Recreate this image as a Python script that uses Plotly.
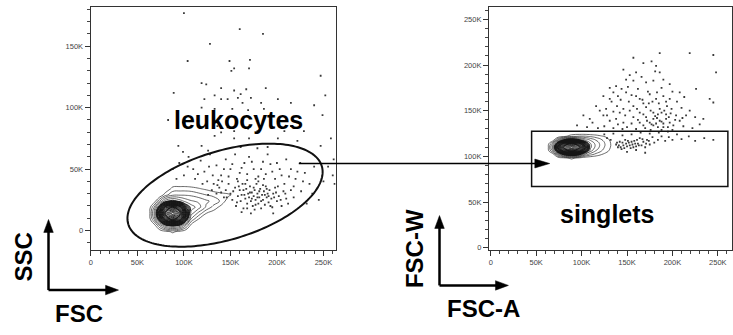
import numpy as np
import plotly.graph_objects as go

W, H = 733, 335
FONT = "Liberation Sans, Arial, Helvetica, sans-serif"

# ---------------- tick labels ----------------
X_TICK_VALS = [0, 50000, 100000, 150000, 200000, 250000]
X_TICK_TEXT = ["0", "50K", "100K", "150K", "200K", "250K"]
LEFT_Y_TICK_VALS = [0, 50000, 100000, 150000]
LEFT_Y_TICK_TEXT = ["0", "50K", "100K", "150K"]
RIGHT_Y_TICK_VALS = [0, 50000, 100000, 150000, 200000, 250000]
RIGHT_Y_TICK_TEXT = ["0", "50K", "100K", "150K", "200K", "250K"]

# ---------------- left panel: FSC vs SSC events (thousands) ----------------
LEFT_EVENTS_K = [
    (100, 177), (160, 164), (185, 160), (128, 152), (104, 138), (149, 138), (154, 132), (171, 139),
    (170, 132), (151, 130), (119, 120), (124, 119), (140, 116), (154, 114), (161, 111), (167, 115),
    (188, 116), (247, 126), (89, 112), (122, 107), (133, 110), (140, 107), (147, 107), (158, 108),
    (163, 104), (172, 108), (183, 104), (201, 107), (215, 104), (119, 100), (133, 99), (152, 99),
    (169, 98), (186, 99), (240, 102), (249, 94), (252, 110), (99, 88), (83, 90), (136, 85),
    (147, 84), (154, 81), (169, 83), (179, 81), (194, 84), (208, 81), (215, 85), (229, 81),
    (133, 77), (140, 80), (154, 75), (170, 75), (201, 75), (222, 73), (247, 69), (258, 75),
    (94, 69), (99, 64), (119, 69), (126, 65), (161, 68), (179, 67), (190, 68),
    (261, 58), (260, 45), (262, 38), (255, 52), (250, 40),
    (95, 55), (105, 60), (110, 50), (118, 57), (122, 48), (128, 62), (135, 53), (140, 45),
    (145, 58), (150, 50), (155, 62), (160, 47), (165, 55), (170, 60), (175, 50), (180, 44),
    (185, 56), (190, 62), (195, 48), (200, 55), (205, 45), (210, 58), (215, 50), (220, 42),
    (225, 55), (230, 47), (235, 38), (240, 52), (112, 42), (125, 40), (132, 38), (100, 45),
    (88, 50), (92, 42), (238, 30), (245, 25), (232, 22), (226, 32),
    (104, 52), (115, 46), (120, 38), (127, 52), (131, 45), (137, 41), (143, 50), (148, 44),
    (152, 54), (158, 40), (162, 51), (168, 46), (173, 56), (177, 42), (183, 50), (188, 46),
    (193, 54), (198, 42), (203, 50), (208, 38), (213, 44), (218, 36), (222, 48), (228, 40),
    (150, 30), (152, 25), (155, 35), (156, 20), (158, 28), (160, 33), (161, 24), (163, 38),
    (164, 18), (165, 29), (166, 26), (167, 34), (168, 22), (169, 30), (170, 27), (171, 36),
    (172, 24), (173, 31), (174, 20), (175, 28), (176, 33), (177, 25), (178, 38), (179, 30),
    (180, 22), (181, 27), (182, 34), (183, 18), (184, 29), (185, 25), (186, 32), (187, 21),
    (188, 36), (189, 27), (190, 30), (191, 23), (192, 33), (194, 26), (195, 19), (196, 30),
    (198, 35), (200, 24), (202, 28), (205, 20), (207, 32), (210, 26), (148, 38), (145, 33),
    (143, 27), (141, 40), (138, 35), (135, 30), (157, 42), (162, 15), (172, 14), (180, 40),
    (186, 42), (196, 14), (168, 41), (176, 17),
    (153, 32), (157, 23), (159, 36), (162, 29), (166, 38), (168, 18), (171, 31), (173, 26),
    (175, 35), (177, 21), (179, 27), (181, 32), (183, 24), (185, 37), (187, 29), (189, 34),
    (191, 28), (193, 20), (197, 27), (199, 31), (201, 36), (204, 25), (209, 30), (212, 22),
    (146, 27), (140, 31), (136, 37), (130, 33), (126, 29), (215, 33), (218, 27), (164, 33),
]

# contour-level counts (x, y in thousands)
LEFT_DENS_X_K = [55, 62, 68, 74, 80, 88, 96, 102, 108, 116, 124, 132, 140, 148, 156, 164]
LEFT_DENS_Y_K = [-6, -1, 4, 9, 14, 19, 24, 29, 34, 39, 44]
LEFT_DENS_Z = [
    [0, 0, 0, 0, 0, 0, 0, 0, 0, 0, 0, 0, 0, 0, 0, 0],
    [0, 0, 0, 0, 0.5, 1.2, 0.5, 0, 0, 0, 0, 0, 0, 0, 0, 0],
    [0, 0, 0.3, 3.0, 5.5, 6.5, 5.5, 3.0, 0.4, 0, 0, 0, 0, 0, 0, 0],
    [0, 0, 3.0, 7.5, 11.5, 13.5, 11.5, 7.5, 2.6, 0.8, 0, 0, 0, 0, 0, 0],
    [0, 0, 4.2, 9.5, 13.8, 16, 13.8, 9.5, 4.4, 2.6, 1.0, 0.4, 0, 0, 0, 0],
    [0, 0, 3.0, 7.5, 11.5, 13.5, 11.5, 7.5, 5.6, 4.4, 2.8, 1.6, 0.6, 0, 0, 0],
    [0, 0, 0.3, 3.0, 5.5, 6.5, 5.5, 4.6, 4.1, 3.8, 3.2, 2.7, 1.8, 0.3, 0, 0],
    [0, 0, 0, 0, 1.6, 2.8, 2.9, 2.9, 2.8, 2.4, 2.0, 1.7, 1.5, 1.2, 0.6, 0],
    [0, 0, 0, 0, 0, 1.4, 1.5, 1.5, 1.4, 1.1, 0.8, 0.4, 0, 0, 0, 0],
    [0, 0, 0, 0, 0, 0.1, 0.1, 0.1, 0, 0, 0, 0, 0, 0, 0, 0],
    [0, 0, 0, 0, 0, 0, 0, 0, 0, 0, 0, 0, 0, 0, 0, 0],
]

# leukocyte gate: ellipse centre and its two semi-axis vectors (thousands)
LEUKO_CENTER_K = (144.2, 28.8)
LEUKO_AXIS_U_K = (104.0, 23.7)
LEUKO_AXIS_V_K = (-13.9, 34.6)

# ---------------- right panel: FSC-A vs FSC-W events (thousands) ----------------
RIGHT_EVENTS_K = [
    (186, 213), (245, 211), (219, 213), (248, 192), (157, 208), (168, 202), (177, 204), (182, 199),
    (181, 193), (186, 192), (146, 195), (160, 192), (131, 175), (138, 177), (144, 174), (149, 184),
    (157, 183), (171, 181), (179, 183), (190, 184), (197, 179), (226, 174), (208, 170), (241, 163),
    (245, 159), (124, 166), (131, 163), (140, 166), (149, 170), (160, 166), (164, 163), (175, 168),
    (182, 163), (190, 166), (197, 163), (116, 155), (127, 152), (139, 155), (146, 152), (157, 155),
    (164, 148), (171, 154), (179, 148), (186, 152), (193, 146), (199, 152), (204, 145), (215, 145),
    (225, 143), (234, 141), (102, 145), (109, 141), (124, 145), (131, 139), (138, 141), (146, 137),
    (157, 143), (164, 137), (171, 143), (175, 137), (179, 141), (182, 136), (186, 139), (190, 136),
    (193, 141), (197, 137), (201, 134), (208, 139), (179, 134), (184, 132), (190, 132), (195, 132),
    (95, 134), (106, 132), (118, 131), (125, 133), (135, 131), (150, 132), (160, 130), (170, 131),
    (176, 129), (188, 129), (200, 129), (212, 133), (222, 131), (153, 189), (166, 187), (133, 160),
    (152, 160), (168, 158), (185, 158), (120, 150), (112, 137), (142, 148), (153, 150), (174, 158),
    (194, 155), (210, 153), (230, 135),
    (135, 170), (143, 162), (151, 176), (155, 167), (162, 174), (167, 162), (173, 171), (178, 160),
    (183, 170), (188, 175), (193, 160), (200, 171), (205, 160), (213, 165), (219, 150), (128, 145),
    (135, 149), (148, 145), (161, 152), (168, 146), (176, 150), (181, 144), (188, 148), (196, 143),
    (203, 140), (211, 142), (172, 139), (177, 135), (183, 142), (188, 138), (168, 134), (162, 140),
    (140, 135), (145, 130), (155, 136), (198, 147), (191, 150), (184, 146),
    (138, 113), (140, 110), (142, 116), (144, 108), (146, 112), (148, 118), (150, 111), (152, 115),
    (154, 109), (156, 113), (158, 117), (160, 111), (162, 114), (164, 120), (166, 112), (168, 116),
    (170, 110), (172, 118), (175, 113), (178, 121), (180, 115), (184, 118), (188, 122), (192, 117),
    (196, 121), (200, 118), (205, 124), (210, 119), (218, 122), (225, 117), (235, 120), (245, 118),
    (128, 120), (132, 118), (125, 124), (135, 125), (145, 123), (155, 124), (165, 126), (175, 125),
    (185, 126), (195, 127), (150, 105), (160, 107), (170, 104),
    (139, 115), (141, 112), (143, 110), (145, 115), (147, 109), (149, 114), (151, 117), (153, 112),
    (155, 116), (157, 110), (159, 114), (161, 118), (163, 112), (167, 119), (171, 114), (174, 117),
]

RIGHT_DENS_X_K = [55, 62, 68, 74, 80, 89, 98, 104, 110, 116, 122, 128, 134, 140]
RIGHT_DENS_Y_K = [94, 98, 102, 106, 110, 114, 118, 122, 126, 130]
RIGHT_DENS_Z = [
    [0, 0, 0, 0, 0, 0, 0, 0, 0, 0, 0, 0, 0, 0],
    [0, 0, 0, 0, 0.3, 1.3, 0.3, 0, 0, 0, 0, 0, 0, 0],
    [0, 0, 0, 3.5, 6.2, 8.1, 6.2, 3.5, 2.3, 1.6, 1.0, 0.6, 0.2, 0],
    [0, 0, 3.0, 8.0, 11.5, 14, 11.5, 8.0, 4.3, 2.9, 2.0, 1.2, 0.5, 0],
    [0, 0, 4.2, 10.0, 13.5, 16, 13.5, 10.0, 5.2, 3.6, 2.5, 1.5, 0.7, 0],
    [0, 0, 3.0, 8.0, 11.5, 14, 11.5, 8.0, 5.0, 3.6, 2.6, 1.6, 0.7, 0],
    [0, 0, 0, 3.5, 6.2, 8.1, 6.2, 4.8, 3.8, 2.9, 2.1, 1.3, 0.6, 0],
    [0, 0, 0, 0, 0.6, 1.7, 2.1, 2.1, 1.8, 1.5, 1.1, 0.8, 0.3, 0],
    [0, 0, 0, 0, 0, 0, 0, 0, 0, 0, 0, 0, 0, 0],
    [0, 0, 0, 0, 0, 0, 0, 0, 0, 0, 0, 0, 0, 0],
]

# singlet gate rectangle (thousands)
SINGLET_X_K = (45, 261)
SINGLET_Y_K = (67, 127.6)

K = 1000.0


def px(x, y):
    """pixel position in the 733x335 page -> paper coordinates"""
    return x / W, 1 - y / H


fig = go.Figure()

# ---- density contours: sparse outer levels + tightly packed core levels
for xs, ys, zs, xa, ya in [(LEFT_DENS_X_K, LEFT_DENS_Y_K, LEFT_DENS_Z, "x", "y"),
                           (RIGHT_DENS_X_K, RIGHT_DENS_Y_K, RIGHT_DENS_Z, "x2", "y2")]:
    for start, end, size, lw, col in [(1, 5, 1, 0.7, "#2a2a2a"), (6, 15.7, 0.33, 0.9, "#151515")]:
        fig.add_trace(go.Contour(
            x=[v * K for v in xs], y=[v * K for v in ys], z=zs,
            contours=dict(start=start, end=end, size=size, coloring="none"),
            line=dict(color=col, width=lw, smoothing=1.3),
            showscale=False, hoverinfo="skip", xaxis=xa, yaxis=ya))

# ---- events
lx, ly = zip(*LEFT_EVENTS_K)
rx, ry = zip(*RIGHT_EVENTS_K)
dot = dict(symbol="square", size=1.8, color="#3a3a3a", line=dict(width=0))
fig.add_trace(go.Scatter(x=[v * K for v in lx], y=[v * K for v in ly], mode="markers",
                         marker=dot, hoverinfo="skip", xaxis="x", yaxis="y"))
fig.add_trace(go.Scatter(x=[v * K for v in rx], y=[v * K for v in ry], mode="markers",
                         marker=dot, hoverinfo="skip", xaxis="x2", yaxis="y2"))

# ---- axes
tickfont = dict(family=FONT, size=7.5, color="#444444")
common = dict(showgrid=False, zeroline=False, showline=True, linecolor="#333333", linewidth=1,
              mirror=True, ticks="outside", ticklen=5, tickwidth=1, tickcolor="#333333",
              tickfont=tickfont, tickmode="array", fixedrange=True)
minor_x = dict(tickmode="array", tickvals=list(range(0, 265001, 10000)), ticks="outside",
               ticklen=3, tickcolor="#444444", showgrid=False)

fig.update_layout(
    width=W, height=H, autosize=False,
    margin=dict(l=0, r=0, t=0, b=0),
    paper_bgcolor="white", plot_bgcolor="white", showlegend=False,
    xaxis=dict(domain=[89 / W, 335 / W], range=[-300, 263100], anchor="y",
               tickvals=X_TICK_VALS, ticktext=X_TICK_TEXT, minor=minor_x, **common),
    yaxis=dict(domain=[1 - 252 / H, 1 - 7 / H], range=[-15600, 182000], anchor="x",
               tickvals=LEFT_Y_TICK_VALS, ticktext=LEFT_Y_TICK_TEXT,
               minor=dict(minor_x, tickvals=list(range(-10000, 182001, 10000))), **common),
    xaxis2=dict(domain=[489 / W, 732.5 / W], range=[-1900, 265000], anchor="y2",
                tickvals=X_TICK_VALS, ticktext=X_TICK_TEXT, minor=minor_x, **common),
    yaxis2=dict(domain=[1 - 252 / H, 1 - 7 / H], range=[-2200, 263600], anchor="x2",
                tickvals=RIGHT_Y_TICK_VALS, ticktext=RIGHT_Y_TICK_TEXT,
                minor=dict(minor_x, tickvals=list(range(0, 263001, 10000))), **common),
)

# ---- gates
t = np.linspace(0, 2 * np.pi, 181)
ex = (LEUKO_CENTER_K[0] + np.cos(t) * LEUKO_AXIS_U_K[0] + np.sin(t) * LEUKO_AXIS_V_K[0]) * K
ey = (LEUKO_CENTER_K[1] + np.cos(t) * LEUKO_AXIS_U_K[1] + np.sin(t) * LEUKO_AXIS_V_K[1]) * K
path = "M " + " L ".join(f"{a:.0f},{b:.0f}" for a, b in zip(ex, ey)) + " Z"
fig.add_shape(type="path", path=path, xref="x", yref="y", line=dict(color="#111111", width=2))
fig.add_shape(type="rect", xref="x2", yref="y2",
              x0=SINGLET_X_K[0] * K, x1=SINGLET_X_K[1] * K,
              y0=SINGLET_Y_K[0] * K, y1=SINGLET_Y_K[1] * K,
              line=dict(color="#111111", width=1.5))


# ---- arrows (decorations drawn in page pixels)
def add_arrow(points, head_len, head_half, width):
    (x1, y1), (x2, y2) = points[-2], points[-1]
    d = np.hypot(x2 - x1, y2 - y1)
    ux, uy = (x2 - x1) / d, (y2 - y1) / d
    bx, by = x2 - ux * head_len, y2 - uy * head_len
    shaft = list(points[:-1]) + [(bx + ux * 1, by + uy * 1)]
    p = "M " + " L ".join("{:.5f},{:.5f}".format(*px(*q)) for q in shaft)
    fig.add_shape(type="path", path=p, xref="paper", yref="paper",
                  line=dict(color="black", width=width), layer="above")
    nx, ny = -uy, ux
    tri = [(x2, y2), (bx + nx * head_half, by + ny * head_half), (bx - nx * head_half, by - ny * head_half)]
    p = "M " + " L ".join("{:.5f},{:.5f}".format(*px(*q)) for q in tri) + " Z"
    fig.add_shape(type="path", path=p, xref="paper", yref="paper", fillcolor="black",
                  line=dict(color="black", width=0.5), layer="above")


add_arrow([(46.7, 292.7), (46.7, 221.5)], 13, 4.8, 2.5)
add_arrow([(46.7, 292.7), (117, 292.7)], 13, 4.8, 2.5)
add_arrow([(439.3, 288), (439.3, 217.5)], 13, 4.8, 2.5)
add_arrow([(439.3, 288), (508.5, 288)], 13, 4.8, 2.5)
add_arrow([(298, 165), (550, 165)], 15, 4.5, 1.6)


# ---- texts
def label(text, x, y, size, angle=0):
    X, Y = px(x, y)
    fig.add_annotation(text=text, x=X, y=Y, xref="paper", yref="paper", showarrow=False,
                       xanchor="center", yanchor="middle", textangle=angle,
                       font=dict(family=FONT, size=size, color="black"))


label("<b>leukocytes</b>", 237.5, 121, 25)
label("<b>singlets</b>", 607, 216, 25)
label("<b>SSC</b>", 22, 259, 24, -90)
label("<b>FSC</b>", 77, 316, 24)
label("<b>FSC-W</b>", 414, 251, 24, -90)
label("<b>FSC-A</b>", 483.5, 311, 24)

# the page's default 8px body margin would shift the figure; remove it
fig.write_html("out.html", config={"displayModeBar": False},
               post_script="document.body.style.margin='0';")
